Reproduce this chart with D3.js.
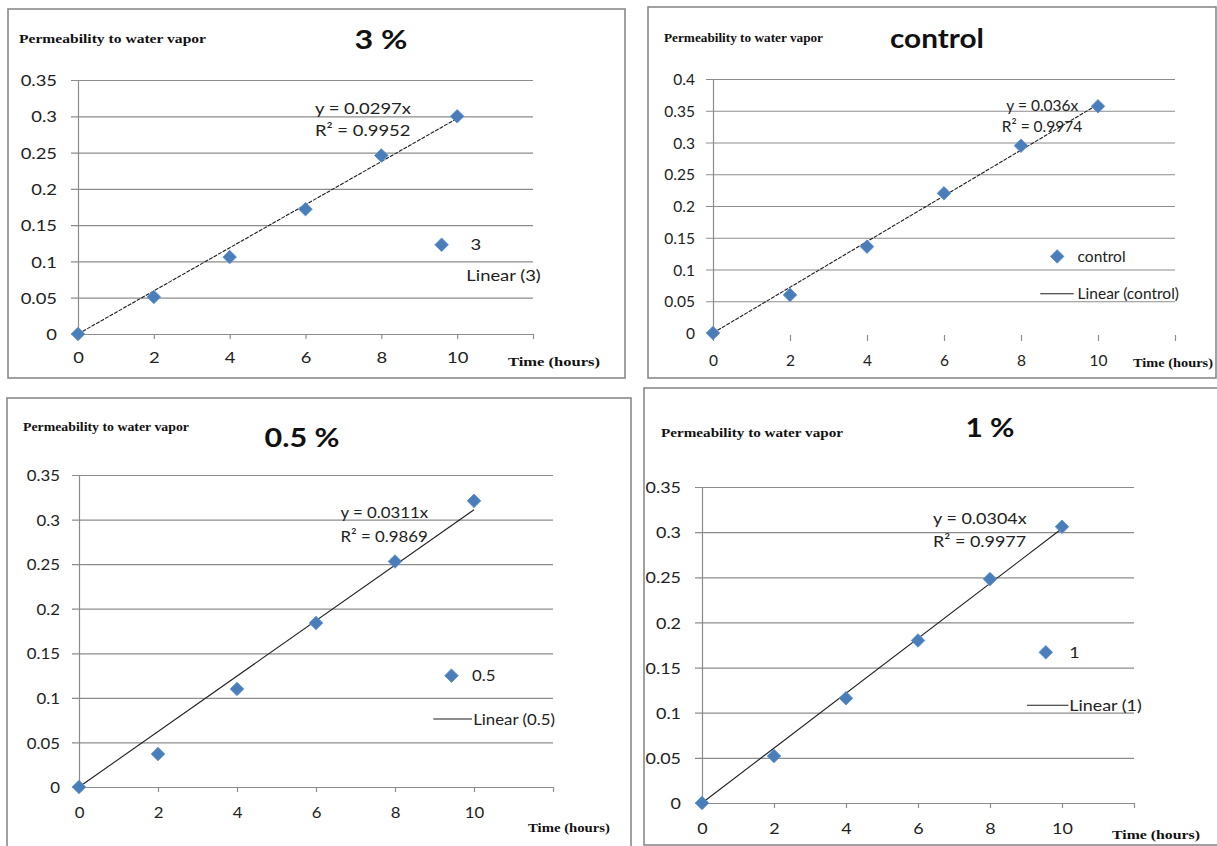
<!DOCTYPE html>
<html><head><meta charset="utf-8">
<script src="https://cdn.jsdelivr.net/npm/d3@7"></script>
<style>body{margin:0;background:#fff}svg{display:block}</style>
</head><body>
<svg id="c" width="1217" height="846"></svg>
<script>
// ---------- data ----------
const hours = [0, 2, 4, 6, 8, 10];
const xTicks = [0, 2, 4, 6, 8, 10, 12];
const xTickLabels = ["0", "2", "4", "6", "8", "10", ""];
const yTicks035 = [0, 0.05, 0.1, 0.15, 0.2, 0.25, 0.3, 0.35];
const yTickLabels035 = ["0", "0.05", "0.1", "0.15", "0.2", "0.25", "0.3", "0.35"];
const yTicks04 = [0, 0.05, 0.1, 0.15, 0.2, 0.25, 0.3, 0.35, 0.4];
const yTickLabels04 = ["0", "0.05", "0.1", "0.15", "0.2", "0.25", "0.3", "0.35", "0.4"];

const panelTitles = ["3 %", "control", "0.5 %", "1 %"];
const seriesNames = ["3", "control", "0.5", "1"];
const trendNames = ["Linear (3)", "Linear (control)", "Linear (0.5)", "Linear (1)"];

const values3 = [0, 0.051, 0.106, 0.172, 0.246, 0.300];
const valuesControl = [0, 0.060, 0.136, 0.220, 0.295, 0.357];
const values05 = [0, 0.037, 0.110, 0.184, 0.253, 0.321];
const values1 = [0, 0.052, 0.116, 0.180, 0.248, 0.306];

const slopes = [0.0297, 0.036, 0.0311, 0.0304];
const equationLabels = ["y = 0.0297x", "y = 0.036x", "y = 0.0311x", "y = 0.0304x"];
const r2Labels = ["R² = 0.9952", "R² = 0.9974", "R² = 0.9869", "R² = 0.9977"];

const yAxisTitle = "Permeability to water vapor";
const xAxisTitle = "Time (hours)";

// ---------- layout (styles / positions) ----------
const layout = [
  { box:[8,9,625,378], xr:[78,533], yr:[334,80], yMax:0.35, ticks:yTicks035, tickLabels:yTickLabels035,
    dashed:true, xAxisLine:true, title:{x:381,y:40,w:53}, perm:{x:19,y:43,w:187}, time:{x:508,y:361,w:92},
    xLabOff:23, yLabGap:21, eq:{x:6.25,x2:6.25,y1:0.311,y2:0.281}, leg:{mx:9.59,my:0.123,tx:10.35,lx:null,ly:0.0806,ltx:10.24},
    k:1.15, values:values3 },
  { box:[648,7,1216,378], xr:[713,1175], yr:[333,79], yMax:0.4, ticks:yTicks04, tickLabels:yTickLabels04,
    dashed:true, xAxisLine:false, title:{x:937,y:39,w:94}, perm:{x:664,y:42,w:159}, time:{x:1133,y:362,w:80},
    xLabOff:27, yLabGap:18, eq:{x:7.62,x2:7.5,y1:0.3585,y2:0.326}, leg:{mx:8.94,my:0.1206,tx:9.47,lx:[8.5,9.37],ly:0.0619,ltx:9.47},
    k:0.97, values:valuesControl },
  { box:[7,398,631,860], xr:[79,553], yr:[787,475], yMax:0.35, ticks:yTicks035, tickLabels:yTickLabels035,
    dashed:false, xAxisLine:true, title:{x:302,y:438,w:75}, perm:{x:23,y:431,w:166}, time:{x:528,y:827,w:82},
    xLabOff:25, yLabGap:19, eq:{x:6.62,x2:6.62,y1:0.308,y2:0.2806}, leg:{mx:9.43,my:0.1249,tx:9.95,lx:[8.97,9.95],ly:0.0762,ltx:9.98},
    k:1.05, values:values05 },
  { box:[644,388,1222,845], xr:[702,1134], yr:[803,487], yMax:0.35, ticks:yTicks035, tickLabels:yTickLabels035,
    dashed:false, xAxisLine:true, title:{x:990,y:428,w:49}, perm:{x:661,y:437,w:182}, time:{x:1112,y:834,w:88},
    xLabOff:25, yLabGap:21, eq:{x:6.42,x2:6.42,y1:0.3157,y2:0.29}, leg:{mx:9.55,my:0.1669,tx:10.2,lx:[9.03,10.18],ly:0.1082,ltx:10.2},
    k:1.12, values:values1 }
];

const GRID = "#8c8c8c", TXT = "#222", BLUE = "#4a7ebb";
const SANS = "Lato, 'Open Sans', sans-serif";
const SERIF = "'Liberation Serif', 'DejaVu Serif', serif";

const svg = d3.select("#c");

function stretch(sel, k) {
  sel.each(function () {
    const L = this.getComputedTextLength();
    if (L > 0) d3.select(this).attr("textLength", L * k).attr("lengthAdjust", "spacingAndGlyphs");
  });
}

layout.forEach((cfg, i) => {
  const g = svg.append("g");
  const x = d3.scaleLinear().domain([0, 12]).range(cfg.xr);
  const y = d3.scaleLinear().domain([0, cfg.yMax]).range(cfg.yr);

  // panel border
  g.append("rect")
    .attr("x", cfg.box[0]).attr("y", cfg.box[1])
    .attr("width", cfg.box[2] - cfg.box[0]).attr("height", cfg.box[3] - cfg.box[1])
    .attr("fill", "#fff").attr("stroke", "#8a8a8a").attr("stroke-width", 1.6);

  // y axis with gridlines
  const plotW = x(12) - x(0);
  const ya = g.append("g").attr("transform", `translate(${x(0)},0)`)
    .call(d3.axisLeft(y).tickValues(cfg.ticks).tickFormat((d, j) => cfg.tickLabels[j])
      .tickSizeInner(-plotW).tickSizeOuter(0).tickPadding(cfg.yLabGap));
  ya.select(".domain").attr("stroke", GRID).attr("stroke-width", 1.2);
  ya.selectAll(".tick line").attr("x1", -7).attr("stroke", GRID).attr("stroke-width", 1.2)
    .attr("display", d => (d === 0 && !cfg.xAxisLine) ? "none" : null);
  ya.selectAll(".tick text").attr("font-family", SANS).attr("font-size", 16).attr("fill", TXT)
    .attr("x", -cfg.yLabGap).attr("dy", "0.35em");
  stretch(ya.selectAll(".tick text"), cfg.k);

  // x axis
  const xa = g.append("g").attr("transform", `translate(0,${y(0)})`)
    .call(d3.axisBottom(x).tickValues(xTicks).tickFormat((d, j) => xTickLabels[j])
      .tickSizeInner(5).tickSizeOuter(0));
  xa.select(".domain").attr("stroke", GRID).attr("stroke-width", 1.2)
    .attr("display", cfg.xAxisLine ? null : "none");
  xa.selectAll(".tick line").attr("stroke", GRID).attr("stroke-width", 1.2)
    .attr("y1", cfg.xAxisLine ? 0 : 2).attr("y2", cfg.xAxisLine ? 5 : 8);
  xa.selectAll(".tick text").attr("font-family", SANS).attr("font-size", 16).attr("fill", TXT)
    .attr("y", cfg.xLabOff).attr("dy", "0.35em");
  stretch(xa.selectAll(".tick text"), cfg.k);

  // trend line
  const trend = [[0, 0], [10, slopes[i] * 10]];
  g.append("path")
    .attr("d", d3.line().x(d => x(d[0])).y(d => y(d[1]))(trend))
    .attr("fill", "none").attr("stroke", "#1e1e1e").attr("stroke-width", 1.1)
    .attr("stroke-dasharray", cfg.dashed ? "4,1.2" : null);

  // markers
  const diamond = d3.symbol(d3.symbolSquare, 92);
  g.selectAll("path.pt").data(hours.map((h, j) => [h, cfg.values[j]])).join("path")
    .attr("class", "pt")
    .attr("d", diamond)
    .attr("transform", d => `translate(${x(d[0])},${y(d[1])}) rotate(45)`)
    .attr("fill", BLUE).attr("stroke", "#5b8fcf").attr("stroke-width", 0.8);

  // equation labels
  const eq1 = g.append("text").attr("x", x(cfg.eq.x)).attr("y", y(cfg.eq.y1)).attr("dy", "0.35em")
    .attr("font-family", SANS).attr("font-size", 16).attr("fill", TXT).text(equationLabels[i]);
  const eq2 = g.append("text").attr("x", x(cfg.eq.x2)).attr("y", y(cfg.eq.y2)).attr("dy", "0.35em")
    .attr("font-family", SANS).attr("font-size", 16).attr("fill", TXT).text(r2Labels[i]);
  stretch(eq1, cfg.k); stretch(eq2, cfg.k);

  // legend
  g.append("path").attr("d", diamond)
    .attr("transform", `translate(${x(cfg.leg.mx)},${y(cfg.leg.my)}) rotate(45)`)
    .attr("fill", BLUE).attr("stroke", "#5b8fcf").attr("stroke-width", 0.8);
  const lt1 = g.append("text").attr("x", x(cfg.leg.tx)).attr("y", y(cfg.leg.my)).attr("dy", "0.35em")
    .attr("font-family", SANS).attr("font-size", 16).attr("fill", TXT).text(seriesNames[i]);
  if (cfg.leg.lx) {
    g.append("line").attr("x1", x(cfg.leg.lx[0])).attr("x2", x(cfg.leg.lx[1]))
      .attr("y1", y(cfg.leg.ly)).attr("y2", y(cfg.leg.ly))
      .attr("stroke", "#1e1e1e").attr("stroke-width", 1.1);
  }
  const lt2 = g.append("text").attr("x", x(cfg.leg.ltx)).attr("y", y(cfg.leg.ly)).attr("dy", "0.35em")
    .attr("font-family", SANS).attr("font-size", 16).attr("fill", TXT).text(trendNames[i]);
  stretch(lt1, cfg.k); stretch(lt2, cfg.k);

  // titles
  g.append("text").attr("x", cfg.title.x).attr("y", cfg.title.y).attr("dy", "0.35em")
    .attr("text-anchor", "middle").attr("font-family", SANS).attr("font-weight", "bold")
    .attr("font-size", 26).attr("fill", "#111")
    .attr("textLength", cfg.title.w).attr("lengthAdjust", "spacingAndGlyphs")
    .text(panelTitles[i]);

  g.append("text").attr("x", cfg.perm.x).attr("y", cfg.perm.y)
    .attr("font-family", SERIF).attr("font-weight", "bold").attr("font-size", 12.5).attr("fill", "#111")
    .attr("textLength", cfg.perm.w).attr("lengthAdjust", "spacingAndGlyphs")
    .text(yAxisTitle);

  g.append("text").attr("x", cfg.time.x).attr("y", cfg.time.y).attr("dy", "0.35em")
    .attr("font-family", SERIF).attr("font-weight", "bold").attr("font-size", 13.5).attr("fill", "#111")
    .attr("textLength", cfg.time.w).attr("lengthAdjust", "spacingAndGlyphs")
    .text(xAxisTitle);
});
</script>
</body></html>
